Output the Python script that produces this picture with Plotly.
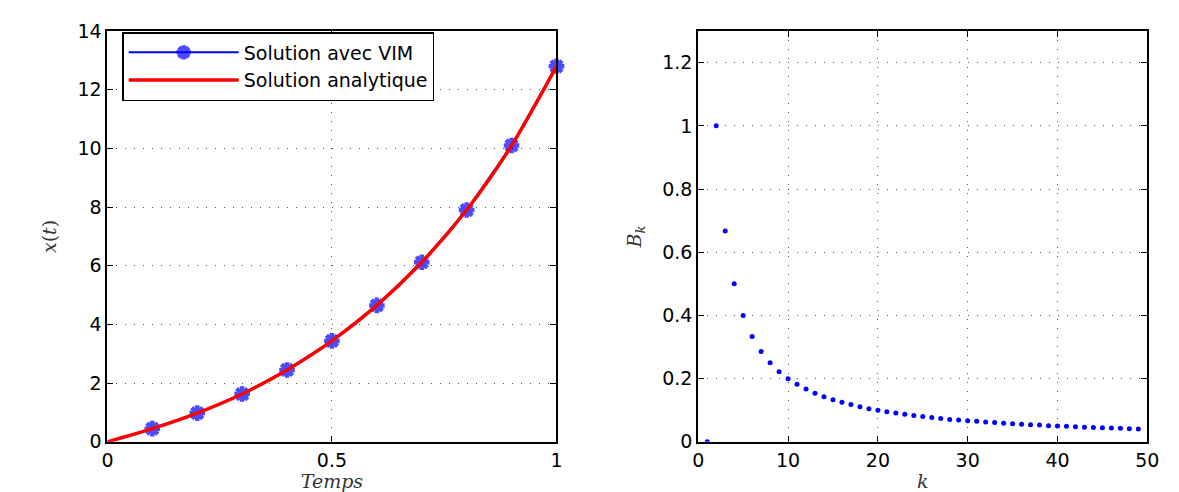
import plotly.graph_objects as go

# Left panel data
t_vals = [0.0, 0.1, 0.2, 0.3, 0.4, 0.5, 0.6, 0.7, 0.8, 0.9, 1.0]
x_vim = [0.0, 0.45, 0.98, 1.63, 2.45, 3.44, 4.65, 6.12, 7.9, 10.1, 12.8]
x_exact = [0.0, 0.45, 0.98, 1.63, 2.45, 3.44, 4.65, 6.12, 7.9, 10.1, 12.8]

# Right panel data
k_vals = list(range(1, 50))
b_vals = [0.0, 1.0, 0.667, 0.5, 0.4, 0.333, 0.286, 0.25, 0.222, 0.2,
          0.182, 0.167, 0.154, 0.143, 0.133, 0.125, 0.118, 0.111, 0.105, 0.1,
          0.095, 0.091, 0.087, 0.083, 0.08, 0.077, 0.074, 0.071, 0.069, 0.067,
          0.065, 0.0625, 0.061, 0.059, 0.057, 0.056, 0.054, 0.053, 0.051, 0.05,
          0.049, 0.048, 0.0465, 0.0455, 0.0444, 0.0435, 0.0426, 0.0417, 0.0408]

left_xticks = [0, 0.5, 1]
left_yticks = [0, 2, 4, 6, 8, 10, 12, 14]
right_xticks = [0, 10, 20, 30, 40, 50]
right_yticks = [0, 0.2, 0.4, 0.6, 0.8, 1.0, 1.2]

W, H = 1179, 492
tick_font = dict(family="DejaVu Sans, Liberation Sans, sans-serif", size=19, color="black")
title_font = dict(family="DejaVu Serif, Liberation Serif, serif", size=19, color="#333")

# no visible marker at the origin in the reference
vim_marker_sizes = [0] + [13] * (len(t_vals) - 1)

fig = go.Figure()
fig.add_trace(go.Scatter(
    x=t_vals, y=x_vim, mode="lines+markers", name="Solution avec VIM",
    line=dict(color="#0000ff", width=2), cliponaxis=False,
    marker=dict(symbol="asterisk-open", size=vim_marker_sizes, color="#0000ff",
                line=dict(color="#0000ff", width=4.5)),
    xaxis="x", yaxis="y"))
fig.add_trace(go.Scatter(
    x=t_vals, y=x_exact, mode="lines", name="Solution analytique",
    line=dict(color="#ff0000", width=3.5, shape="spline", smoothing=0.8),
    xaxis="x", yaxis="y"))
fig.add_trace(go.Scatter(
    x=k_vals, y=b_vals, mode="markers", showlegend=False,
    marker=dict(symbol="circle", size=5, color="#0000ff"),
    xaxis="x2", yaxis="y2"))

axis_common = dict(
    showline=True, linecolor="black", linewidth=2, mirror="ticks",
    ticks="inside", ticklen=6, tickcolor="black", tickwidth=1,
    showgrid=True, gridcolor="#555", griddash="1px,8px", gridwidth=1,
    zeroline=False, tickfont=tick_font,
)

fig.update_layout(
    width=W, height=H,
    margin=dict(l=0, r=0, t=0, b=0),
    paper_bgcolor="white", plot_bgcolor="white",
    xaxis=dict(domain=[103 / W, 559 / W], range=[0, 1], tickvals=left_xticks,
               ticktext=["0", "0.5", "1"], anchor="y",
               title=dict(text="<i>Temps</i>", font=title_font, standoff=6),
               **axis_common),
    yaxis=dict(domain=[1 - 451 / H, 1 - 21 / H], range=[0, 14], tickvals=left_yticks,
               anchor="x", ticksuffix="  ",
               title=dict(text="<i>x</i>(<i>t</i>)", font=title_font, standoff=16),
               **axis_common),
    xaxis2=dict(domain=[703 / W, 1159 / W], range=[0, 50], tickvals=right_xticks,
                anchor="y2",
                title=dict(text="<i>k</i>", font=title_font, standoff=6),
                **axis_common),
    yaxis2=dict(domain=[1 - 451 / H, 1 - 21 / H], range=[0, 1.3], tickvals=right_yticks,
                ticktext=["0", "0.2", "0.4", "0.6", "0.8", "1", "1.2"],
                anchor="x2", ticksuffix="  ",
                title=dict(text="<i>B</i><sub><i>k</i></sub>", font=title_font, standoff=16),
                **axis_common),
    legend=dict(x=118 / W, y=1 - 22 / H, xanchor="left", yanchor="top",
                bgcolor="white", bordercolor="black", borderwidth=1.5,
                font=dict(family="DejaVu Sans, Liberation Sans, sans-serif", size=19, color="black"),
                itemwidth=110, tracegroupgap=0),
)

fig.write_html("out.html")
